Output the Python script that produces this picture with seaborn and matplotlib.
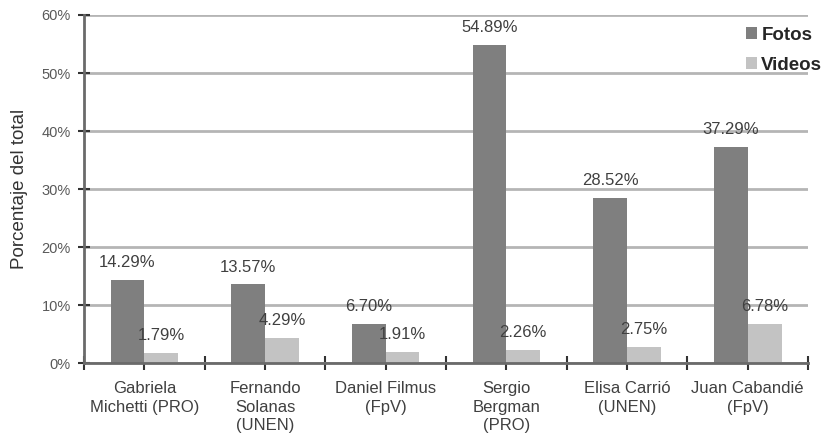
import matplotlib
matplotlib.use("Agg")
import matplotlib.pyplot as plt
import seaborn as sns
import pandas as pd
from matplotlib.ticker import FixedLocator, PercentFormatter

categories = ["Gabriela\nMichetti (PRO)", "Fernando\nSolanas\n(UNEN)", "Daniel Filmus\n(FpV)",
              "Sergio\nBergman\n(PRO)", "Elisa Carrió\n(UNEN)", "Juan Cabandié\n(FpV)"]
fotos = [14.29, 13.57, 6.70, 54.89, 28.52, 37.29]
videos = [1.79, 4.29, 1.91, 2.26, 2.75, 6.78]
series = ["Fotos", "Videos"]
yticks = [0, 10, 20, 30, 40, 50, 60]

df = pd.DataFrame({
    "cat": categories * 2,
    "serie": ["Fotos"] * len(categories) + ["Videos"] * len(categories),
    "val": fotos + videos,
})

sns.set_theme(style="white")
plt.rcParams["font.family"] = ["Liberation Sans", "DejaVu Sans"]

fig = plt.figure(figsize=(8.27, 4.36), dpi=100)
ax = fig.add_axes([0.1016, 0.1674, 0.8755, 0.7982])

sns.barplot(data=df, x="cat", y="val", hue="serie", order=categories, hue_order=series,
            palette={"Fotos": "#7f7f7f", "Videos": "#c3c3c3"}, width=0.56,
            saturation=1, ax=ax, legend=True, edgecolor="none")

for cont in ax.containers:
    vals = [b.get_height() for b in cont]
    ax.bar_label(cont, labels=[f"{v:.2f}%" for v in vals], padding=7,
                 fontsize=12, color="#404040")

ax.set_ylim(0, 60)
ax.set_xlim(-0.5, len(categories) - 0.5)
ax.yaxis.set_major_locator(FixedLocator(yticks))
ax.yaxis.set_major_formatter(PercentFormatter(decimals=0))
ax.grid(axis="y", color="#b5b5b5", linewidth=2)
ax.set_axisbelow(True)

for s in ["top", "right"]:
    ax.spines[s].set_visible(False)
for s in ["left", "bottom"]:
    ax.spines[s].set_color("#6a6a6a")
    ax.spines[s].set_linewidth(2)

ax.set_xticks(range(len(categories)))
ax.set_xticklabels(categories, fontsize=12, color="#404040", linespacing=1.3)
ax.set_xticks([i - 0.5 for i in range(len(categories) + 1)], minor=True)
ax.tick_params(axis="x", which="both", direction="inout", length=10, width=1.5,
               color="#333333", bottom=True, pad=8)
ax.tick_params(axis="y", direction="inout", length=9, width=1.5, color="#333333",
               left=True, labelsize=10.5, labelcolor="#595959", pad=5)

ax.set_xlabel("")
ax.set_ylabel("Porcentaje del total", fontsize=13.5, color="#333333", labelpad=10)

leg = ax.legend(loc="upper right", bbox_to_anchor=(1.043, 1.015), frameon=False,
                handlelength=0.55, handleheight=0.55, handletextpad=0.25,
                labelspacing=0.7, prop={"weight": "bold", "size": 13.5})

fig.savefig("out.png", dpi=100, facecolor="white")
